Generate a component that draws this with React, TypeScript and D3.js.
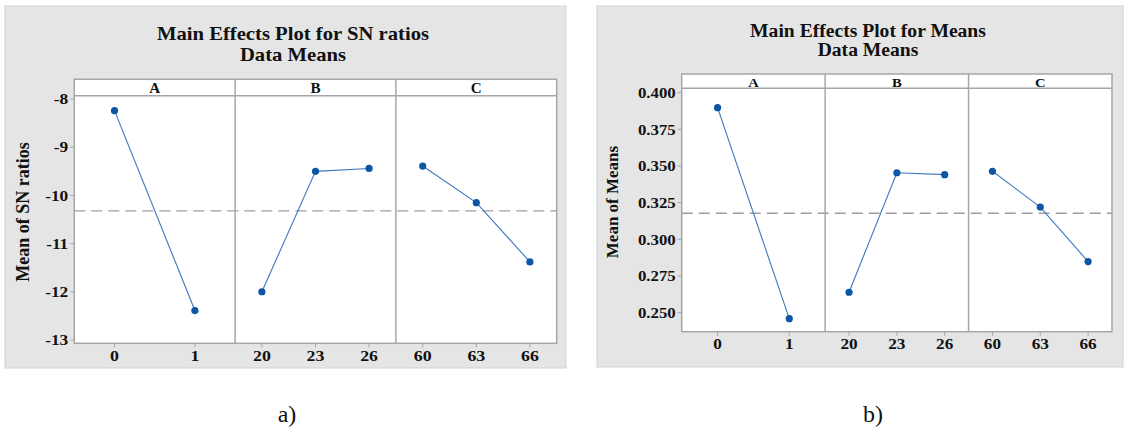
import React from 'react';
import * as d3 from 'd3';

// factors and their levels
const factors = ['A', 'B', 'C'];
const levelsA = ['0', '1'];
const levelsB = ['20', '23', '26'];
const levelsC = ['60', '63', '66'];

// a) SN ratios
const snA = [-8.24, -12.39];
const snB = [-12.0, -9.5, -9.44];
const snC = [-9.39, -10.15, -11.38];
const snOverall = -10.32;
const snTicks = [-13, -12, -11, -10, -9, -8];

// b) means
const meanA = [0.3898, 0.2459];
const meanB = [0.2639, 0.3454, 0.3441];
const meanC = [0.3464, 0.322, 0.2848];
const meanOverall = 0.3178;
const meanTicks = [0.25, 0.275, 0.3, 0.325, 0.35, 0.375, 0.4];

const FONT = '"Liberation Serif", "Times New Roman", serif';
const BLUE_LINE = '#3b78c0';
const BLUE_DOT = '#0d56a3';

// the source figure is a little stretched sideways, so text gets a scaleX
function T({ x, y, size, sx = 1, anchor = 'middle', bold = true, children }) {
  return (
    <text transform={`translate(${x},${y}) scale(${sx},1)`} textAnchor={anchor} dominantBaseline="central"
      fontFamily={FONT} fontWeight={bold ? 'bold' : 'normal'} fontSize={size} fill="#111">{children}</text>
  );
}

function MainEffects({ cfg }) {
  const { bg, frame, yDomain, yTicks, tickFmt, series, overall } = cfg;

  const panel = d3.scaleBand().domain(factors).range([frame.left, frame.right]);
  const y = d3.scaleLinear().domain(yDomain).range([frame.bottom, frame.top]);

  const line = d3.line();

  return (
    <g>
      <rect x={bg.x} y={bg.y} width={bg.w} height={bg.h} fill="#e5e5e5" stroke="#d2d2d2" strokeWidth={1} />

      <T x={cfg.titleX} y={cfg.titleY1} size={cfg.titleSize} sx={1.06}>{cfg.title}</T>
      <T x={cfg.titleX} y={cfg.titleY2} size={cfg.titleSize} sx={1.06}>Data Means</T>

      {/* plot + strip background */}
      <rect x={frame.left} y={frame.stripTop} width={frame.right - frame.left}
        height={frame.bottom - frame.stripTop} fill="#fff" />

      {/* overall mean reference */}
      <line x1={frame.left} x2={frame.right} y1={y(overall)} y2={y(overall)}
        stroke="#9d9d9d" strokeWidth={1.3} strokeDasharray="11 6" />

      {factors.map((f, i) => {
        const s = series[i];
        const x = d3.scalePoint().domain(s.levels).range([panel(f), panel(f) + panel.bandwidth()]).padding(0.5);
        const pts = s.values.map((v, j) => [x(s.levels[j]), y(v)]);
        return (
          <g key={f}>
            <T x={panel(f) + panel.bandwidth() / 2} y={(frame.stripTop + frame.top) / 2 + 1}
              size={cfg.stripSize} sx={1.08}>{f}</T>
            {i > 0 && (
              <line x1={panel(f)} x2={panel(f)} y1={frame.stripTop} y2={frame.bottom}
                stroke="#a6a6a6" strokeWidth={1.5} />
            )}
            <path d={line(pts)} fill="none" stroke={BLUE_LINE} strokeWidth={1.1} />
            {pts.map((p, j) => (
              <circle key={j} cx={p[0]} cy={p[1]} r={3.6} fill={BLUE_DOT} />
            ))}
            {s.levels.map(l => (
              <g key={l}>
                <line x1={x(l)} x2={x(l)} y1={frame.bottom} y2={frame.bottom + 4} stroke="#a6a6a6" />
                <T x={x(l)} y={frame.bottom + cfg.xLabelDy} size={cfg.tickSize} sx={1.15}>{l}</T>
              </g>
            ))}
          </g>
        );
      })}

      {/* frame and strip */}
      <rect x={frame.left} y={frame.stripTop} width={frame.right - frame.left}
        height={frame.bottom - frame.stripTop} fill="none" stroke="#a6a6a6" strokeWidth={1.5} />
      <line x1={frame.left} x2={frame.right} y1={frame.top} y2={frame.top} stroke="#a6a6a6" strokeWidth={1.5} />

      {yTicks.map(t => (
        <g key={t}>
          <line x1={frame.left - 4} x2={frame.left} y1={y(t)} y2={y(t)} stroke="#a6a6a6" />
          <T x={frame.left - 6} y={y(t)} size={cfg.tickSize} sx={1.12} anchor="end">{tickFmt(t)}</T>
        </g>
      ))}

      <text transform={`translate(${cfg.yLabelX},${cfg.yLabelY}) rotate(-90)`} textAnchor="middle"
        dominantBaseline="central" fontFamily={FONT} fontWeight="bold" fontSize={cfg.yLabelSize}
        fill="#111">{cfg.yLabel}</text>

      <T x={cfg.captionX} y={414} size={24} bold={false}>{cfg.caption}</T>
    </g>
  );
}

const snCfg = {
  bg: { x: 5, y: 6, w: 561, h: 362 },
  frame: { left: 74.3, right: 556.7, stripTop: 79.3, top: 95.7, bottom: 343.3 },
  yDomain: [-13.07, -7.93],
  yTicks: snTicks,
  tickFmt: d => d3.format('d')(d).replace('−', '-'),
  series: [
    { levels: levelsA, values: snA },
    { levels: levelsB, values: snB },
    { levels: levelsC, values: snC },
  ],
  overall: snOverall,
  title: 'Main Effects Plot for SN ratios',
  titleX: 293, titleY1: 33, titleY2: 54, titleSize: 19.5,
  yLabel: 'Mean of SN ratios', yLabelX: 23, yLabelY: 212, yLabelSize: 18,
  stripSize: 14, tickSize: 15.5,
  xLabelDy: 13,
  caption: 'a)', captionX: 287,
};

const meanCfg = {
  bg: { x: 597, y: 6, w: 526, h: 361 },
  frame: { left: 681.7, right: 1112, stripTop: 74, top: 88.3, bottom: 331.7 },
  yDomain: [0.237, 0.403],
  yTicks: meanTicks,
  tickFmt: d => d3.format('.3f')(d),
  series: [
    { levels: levelsA, values: meanA },
    { levels: levelsB, values: meanB },
    { levels: levelsC, values: meanC },
  ],
  overall: meanOverall,
  title: 'Main Effects Plot for Means',
  titleX: 868, titleY1: 31, titleY2: 50, titleSize: 18.5,
  yLabel: 'Mean of Means', yLabelX: 612, yLabelY: 202, yLabelSize: 17,
  stripSize: 13.5, tickSize: 15,
  xLabelDy: 12,
  caption: 'b)', captionX: 873,
};

export default function App() {
  return (
    <svg width={1128} height={431} style={{ position: 'absolute', left: 0, top: 0, background: '#fff' }}>
      <MainEffects cfg={snCfg} />
      <MainEffects cfg={meanCfg} />
    </svg>
  );
}
